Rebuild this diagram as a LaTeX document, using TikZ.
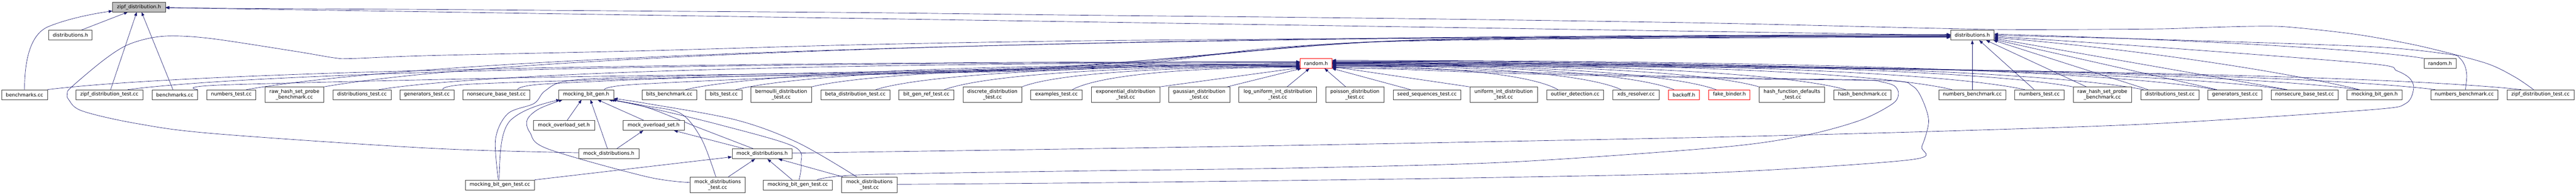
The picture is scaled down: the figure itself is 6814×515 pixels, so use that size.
\documentclass[tikz,border=0pt]{standalone}
\usepackage{fontspec}
\newfontfamily\dvs{DejaVu Sans}
\usetikzlibrary{arrows.meta,calc}
\definecolor{edgec}{HTML}{191970}
\definecolor{boxc}{HTML}{3C3C3C}
\definecolor{focusc}{HTML}{BFBFBF}
\pgfdeclarelayer{bg}
\pgfsetlayers{bg,main}
\begin{document}
\begin{tikzpicture}[x=1pt,y=-1pt,
 box/.style={draw=boxc,line width=1pt,fill=white,rectangle,minimum height=25.7pt,inner sep=0pt,align=center,font=\dvs\fontsize{13}{15}\selectfont},
 tall/.style={minimum height=40.3pt},
 trunc/.style={draw=red},
 focus/.style={fill=focusc},
 edge/.style={draw=edgec,line width=0.9pt,line join=round,-{Triangle[length=10pt,width=7.5pt]}},
 flow/.style={to path={let \p1=(\tikztostart),\p2=(\tikztotarget) in .. controls ({\x1+#1*(\x2-\x1)},{\y2+0.35*(\y1-\y2)}) and ({\x1+0.5*(\x2-\x1)},\y2) .. (\tikztotarget) \tikztonodes}},
 flow/.default=0.12]
\useasboundingbox (0,0) rectangle (6814,515);

% rank 0-2
\node[box,focus,minimum width=139.2] (Z) at (367.7,18.5) {zipf\_distribution.h};
\node[box,minimum width=114.5] (DL) at (186.3,93) {distributions.h};
\node[box,minimum width=114.5] (DR) at (5217.1,93) {distributions.h};
\node[box,trunc,minimum width=84.3] (RR) at (3481.1,167.5) {random.h};
\node[box,minimum width=84] (RB) at (6454.2,167.5) {random.h};

% rank 3
\node[box,minimum width=121] (bmL) at (64.9,250) {benchmarks.cc};
\node[box,minimum width=177.8] (zipfTL) at (289.2,250) {zipf\_distribution\_test.cc};
\node[box,minimum width=120] (bm2) at (462.4,250) {benchmarks.cc};
\node[box,minimum width=129.4] (numtL) at (611.8,250) {numbers\_test.cc};
\node[box,tall,minimum width=154.9] (rawL) at (778.7,250) {raw\_hash\_set\_probe\\\_benchmark.cc};
\node[box,minimum width=153.8] (dtL) at (957.4,250) {distributions\_test.cc};
\node[box,minimum width=143.2] (genL) at (1129.1,250) {generators\_test.cc};
\node[box,minimum width=177.4] (nsL) at (1313,250) {nonsecure\_base\_test.cc};
\node[box,minimum width=145.4] (MBG1) at (1550.4,250) {mocking\_bit\_gen.h};
\node[box,minimum width=144.3] (bitsb) at (1770.5,250) {bits\_benchmark.cc};
\node[box,minimum width=96.3] (bitst) at (1914.5,250) {bits\_test.cc};
\node[box,tall,minimum width=159.9] (bern) at (2066.3,250) {bernoulli\_distribution\\\_test.cc};
\node[box,minimum width=183.3] (beta) at (2262.5,250) {beta\_distribution\_test.cc};
\node[box,minimum width=145.8] (bgr) at (2450.3,250) {bit\_gen\_ref\_test.cc};
\node[box,tall,minimum width=155.2] (disc) at (2625.2,250) {discrete\_distribution\\\_test.cc};
\node[box,minimum width=136.3] (exam) at (2794.6,250) {examples\_test.cc};
\node[box,tall,minimum width=180.3] (expo) at (2977.3,250) {exponential\_distribution\\\_test.cc};
\node[box,tall,minimum width=161.8] (gaus) at (3171.9,250) {gaussian\_distribution\\\_test.cc};
\node[box,tall,minimum width=206.1] (logu) at (3379.9,250) {log\_uniform\_int\_distribution\\\_test.cc};
\node[box,tall,minimum width=153.8] (pois) at (3583.8,250) {poisson\_distribution\\\_test.cc};
\node[box,minimum width=179.2] (seed) at (3774.6,250) {seed\_sequences\_test.cc};
\node[box,tall,minimum width=178.8] (unif) at (3977.3,250) {uniform\_int\_distribution\\\_test.cc};
\node[box,minimum width=150.8] (outl) at (4166.5,250) {outlier\_detection.cc};
\node[box,minimum width=122.8] (xds) at (4327.7,250) {xds\_resolver.cc};
\node[box,trunc,minimum width=81.8] (backoff) at (4454.4,250) {backoff.h};
\node[box,trunc,minimum width=109.4] (fake) at (4574.4,250) {fake\_binder.h};
\node[box,tall,minimum width=173.1] (hfd) at (4739.9,250) {hash\_function\_defaults\\\_test.cc};
\node[box,minimum width=150.8] (hbench) at (4926.6,250) {hash\_benchmark.cc};
\node[box,minimum width=177.7] (nbR) at (5217.1,250) {numbers\_benchmark.cc};
\node[box,minimum width=129.8] (ntR) at (5394.5,250) {numbers\_test.cc};
\node[box,tall,minimum width=154.5] (rawR) at (5561,250) {raw\_hash\_set\_probe\\\_benchmark.cc};
\node[box,minimum width=153.8] (dtR) at (5739.8,250) {distributions\_test.cc};
\node[box,minimum width=142.9] (genR) at (5911.8,250) {generators\_test.cc};
\node[box,minimum width=177.4] (nsR) at (6095.9,250) {nonsecure\_base\_test.cc};
\node[box,minimum width=145.8] (MBG2) at (6281.1,250) {mocking\_bit\_gen.h};
\node[box,minimum width=177.6] (nbR2) at (6518.4,250) {numbers\_benchmark.cc};
\node[box,minimum width=177.6] (zipfTR) at (6720,250) {zipf\_distribution\_test.cc};

% ranks 4-6
\node[box,minimum width=161.8] (MOS1) at (1491.7,331.5) {mock\_overload\_set.h};
\node[box,minimum width=161.4] (MOS2) at (1728.9,331.5) {mock\_overload\_set.h};
\node[box,minimum width=159.2] (MD1) at (1610.4,406.5) {mock\_distributions.h};
\node[box,minimum width=158.8] (MD2) at (2015.9,406.5) {mock\_distributions.h};
\node[box,minimum width=182.8] (MBGT1) at (1322.3,488.5) {mocking\_bit\_gen\_test.cc};
\node[box,tall,minimum width=146.8] (MDT1) at (1898.3,488) {mock\_distributions\\\_test.cc};
\node[box,minimum width=182.9] (MBGT2) at (2110.1,488.5) {mocking\_bit\_gen\_test.cc};
\node[box,tall,minimum width=147.2] (MDT2) at (2299.8,488) {mock\_distributions\\\_test.cc};

\begin{pgfonlayer}{bg}
% ---- into zipf_distribution.h
\draw[edge] ([xshift=28.2]DL.north) -- ([xshift=-29.7]Z.south);
\draw[edge] (bmL.north) .. controls (65,140) and (88,90) .. (124,72) .. controls (170,52) and (240,37) .. ([yshift=-10.5]Z.west);
\draw[edge] ([xshift=3.4]zipfTL.north) -- ([xshift=-6]Z.south);
\draw[edge] ([xshift=-5]bm2.north) -- ([xshift=6.7]Z.south);
\draw[edge] (DR.west) -- ([yshift=-2]Z.east);
\draw[edge] plot[smooth,tension=0.5] coordinates {([xshift=-18.4]zipfTR.north) (6651.6,203) (6575,166.7) (6408.8,123.3) (6270,96.7) (6172.6,83.3) (6041.7,70.5) (5954.5,69.5) (5809,73.3) (5700,76.5) (5348,78.3) (5130,75) (4560,61.7) (3990,52.7) (3420,45.7) (2850,40) (2280,33.3) (1710,29.3) (1140,25) (570,21.7) ([yshift=-1]Z.east)};

% ---- into distributions.h (right) from the left
\draw[edge] plot[smooth,tension=0.55] coordinates {([yshift=3]MD1.west) (1140,391.7) (570,353.3) (363.6,326.7) (218,293.3) (181.8,263.3) (178.1,246.7) (189,230) (272.6,160) (334.4,120) (400,100) (465.3,95) (570,103.3) (788,136.7) (886,153) (933.5,154.5) (1140,146.7) (1710,134) (2280,118) (2850,108) (3420,103) (3990,99) (4560,97) ([yshift=-3]DR.west)};
\draw[edge] ([xshift=40]numtL.north) to[flow] ([yshift=-1]DR.west);
\draw[edge] (rawL.north east) to[flow] ([yshift=1]DR.west);
\draw[edge] plot[smooth,tension=0.5] coordinates {(bm2.north east) (600,224) (1500,203) (2600,186) (3150,150) (3600,112) (4400,101) ([yshift=-6]DR.west)};
\draw[edge] plot[smooth,tension=0.5] coordinates {([xshift=42]genL.north) (1250,222) (1800,205) (2700,184) (3250,140) (3700,108) (4500,99) ([yshift=-4]DR.west)};
\draw[edge] plot[smooth,tension=0.5] coordinates {([xshift=56]nsL.north) (1440,222) (1900,203) (2800,182) (3300,135) (3750,106) (4500,97) ([yshift=-2]DR.west)};
\draw[edge] plot[smooth,tension=0.5] coordinates {([xshift=48]MBG1.north) (1680,223) (2200,200) (2900,180) (3350,128) (3800,104) (4500,95) ([yshift=2]DR.west)};

% ---- into distributions.h (right) from below / right
\draw[edge] (nbR.north) -- (DR.south);
\draw[edge] ([xshift=-13.7]ntR.north) -- ([xshift=18.3]DR.south);
\draw[edge] ([xshift=-42]rawR.north) -- ([xshift=36.5]DR.south);
\draw[edge] ([xshift=-58]dtR.north) -- ([xshift=-2]DR.south east);
\draw[edge] ([xshift=-48]genR.north) -- ([yshift=2]DR.south east);
\draw[edge] ([xshift=-46]nsR.north) -- ([yshift=5]DR.south east);
\draw[edge] ([xshift=-40]MBG2.north) .. controls (6000,180) and (5600,125) .. ([yshift=-6]DR.east);
\draw[edge] (RB.north west) .. controls (6300,135) and (5900,108) .. ([yshift=3]DR.east);
\draw[edge] plot[smooth,tension=0.5] coordinates {([xshift=3]nbR2.north) (6525,200) (6519.8,173.3) (6506,153.3) (6478,143.3) (6270,123.3) (5700,104) (DR.east)};
\draw[edge] plot[smooth,tension=0.5] coordinates {([yshift=2]MD2.east) (2280,401.7) (2850,393.3) (3420,384) (3990,373.3) (4560,361.7) (5130,346.7) (5700,326.7) (6270,290) (6363.7,273.3) (6384.5,233.3) (6374,206.7) (6339.4,186.7) (6270,168.3) (5700,124.3) ([yshift=-3]DR.east)};

% ---- into random.h (red) from the left
\draw[edge] (bmL.north east) to[flow] ([yshift=4.5]RR.west);
\draw[edge] ([xshift=49]zipfTL.north) to[flow] ([yshift=3]RR.west);
\draw[edge] ([xshift=45]dtL.north) to[flow] ([yshift=1.5]RR.west);
\draw[edge] plot[smooth,tension=0.55] coordinates {([xshift=-4]MBGT1.north) (1310.9,366.7) (1343.6,300) (1412.7,273.3) (1441.8,240) (1503.6,213.3) (1710,203.3) (2280,190) (2850,180) (3300,170) (RR.west)};
\draw[edge] ([xshift=43]bitsb.north) to[flow] ([yshift=-1.5]RR.west);
\draw[edge] ([xshift=32]bitst.north) to[flow] ([yshift=-3]RR.west);
\draw[edge] (bern.north east) to[flow] ([yshift=-4.5]RR.west);
\draw[edge] ([xshift=54]beta.north) to[flow] ([yshift=-6]RR.west);
\draw[edge] ([xshift=48]bgr.north) to[flow] ([yshift=-7.5]RR.west);
\draw[edge] (disc.north east) to[flow] ([yshift=-9]RR.west);
\draw[edge] ([xshift=42]exam.north) to[flow] ([yshift=-10.5]RR.west);
\draw[edge] (expo.north east) -- ([yshift=-11.5]RR.west);
\draw[edge] ([xshift=74]gaus.north) -- ([xshift=4]RR.south west);
\draw[edge] ([xshift=24.6]logu.north) -- ([xshift=-17.5]RR.south);
\draw[edge] ([xshift=-24]pois.north) -- ([xshift=22.5]RR.south);

% ---- into random.h (red) from the right
\draw[edge] ([xshift=-44]seed.north) -- (RR.south east);
\draw[edge] (unif.north west) -- ([yshift=-8.5]RR.east);
\draw[edge] ([xshift=-45.6]outl.north) to[flow] ([yshift=-7]RR.east);
\draw[edge] ([xshift=-39.7]xds.north) to[flow] ([yshift=-5.5]RR.east);
\draw[edge] ([xshift=-26.4]backoff.north) to[flow] ([yshift=-4]RR.east);
\draw[edge] ([xshift=-35]fake.north) to[flow] ([yshift=-2.5]RR.east);
\draw[edge] (hfd.north west) to[flow] ([yshift=-1]RR.east);
\draw[edge] ([xshift=-45]hbench.north) to[flow] ([yshift=0.5]RR.east);
\draw[edge] ([xshift=-54]nbR.north) to[flow] ([yshift=2]RR.east);
\draw[edge] ([xshift=-39]ntR.north) to[flow] ([yshift=3.5]RR.east);
\draw[edge] (rawR.north west) to[flow] ([yshift=5]RR.east);
\draw[edge] ([xshift=-70]dtR.north) to[flow] ([yshift=6.5]RR.east);
\draw[edge] ([xshift=-52]genR.north) to[flow] ([yshift=8]RR.east);
\draw[edge] ([xshift=-50]nsR.north) to[flow] ([yshift=1]RR.east);
\draw[edge] ([xshift=-43]MBG2.north) to[flow] ([yshift=-1.5]RR.east);
\draw[edge] ([xshift=-77]nbR2.north) to[flow] ([yshift=-4.5]RR.east);
\draw[edge] ([xshift=-51]zipfTR.north) to[flow] ([yshift=-7.5]RR.east);
\draw[edge] plot[smooth,tension=0.5] coordinates {([xshift=51]MBGT2.north) (2280,461.7) (2850,451.7) (3420,444) (3990,428.3) (4560,388.3) (4778,356.7) (4923.6,316.7) (5007.3,273.3) (5021.8,246.7) (5010.9,226.7) (4978,216.7) (4923.6,211) (4560,205) (4000,190) (3700,180) ([yshift=-10.5]RR.east)};
\draw[edge] plot[smooth,tension=0.5] coordinates {([yshift=1]MDT2.east) (2850,483.3) (3420,476.7) (3990,468.3) (4560,455) (5056.2,421.7) (5083.5,386.7) (5101.6,320) (5083.5,260) (5058,226.7) (4996.2,213.3) (4600,208) (4000,194) (3700,183) ([yshift=-11.5]RR.east)};

% ---- mock cluster
\draw[edge] ([xshift=8.3]MOS1.north) -- ([xshift=-12]MBG1.south);
\draw[edge] ([xshift=-3.3]MD1.north) -- ([xshift=11.3]MBG1.south);
\draw[edge] ([xshift=-25.4]MOS2.north) -- ([xshift=30]MBG1.south);
\draw[edge] ([xshift=20.4]MD1.north) -- ([xshift=-27.3]MOS2.south);
\draw[edge] ([xshift=-46]MD2.north) -- ([xshift=53.8]MOS2.south);
\draw[edge] plot[smooth,tension=0.5] coordinates {([xshift=-22.3]MD2.north) (1850,338) (1710,283.3) ([xshift=-14]MBG1.south east)};
\draw[edge] (MBGT1.north east) -- ([yshift=-8]MD2.west);
\draw[edge] ([xshift=-2]MBGT1.north) .. controls (1322,400) and (1325,345) .. (1350,318) .. controls (1380,290) and (1430,275) .. ([xshift=4]MBG1.south west);
\draw[edge] plot[smooth,tension=0.55] coordinates {([yshift=6]MDT1.west) (1710,466.7) (1449,393.3) (1401.8,350) (1394.5,316.7) (1425,288) ([xshift=11]MBG1.south west)};
\draw[edge] plot[smooth,tension=0.55] coordinates {([xshift=-4.7]MDT1.north) (1855.4,366.7) (1800.9,300) (1710,280) ([xshift=-9]MBG1.south east)};
\draw[edge] plot[smooth,tension=0.55] coordinates {([xshift=3.5]MBGT2.north) (2119,433.3) (2099,386.7) (1905,330) (1710,283) ([xshift=-4]MBG1.south east)};
\draw[edge] plot[smooth,tension=0.55] coordinates {([xshift=-33.4]MDT2.north) (2110,376.7) (1946.4,316.7) (1710,273.3) ([yshift=3]MBG1.south east)};
\draw[edge] ([xshift=28]MDT1.north) -- ([xshift=-18.6]MD2.south);
\draw[edge] ([xshift=-14.6]MBGT2.north) -- ([xshift=14]MD2.south);
\draw[edge] ([xshift=-69.8]MDT2.north) -- ([xshift=43]MD2.south);
\end{pgfonlayer}
\end{tikzpicture}
\end{document}
